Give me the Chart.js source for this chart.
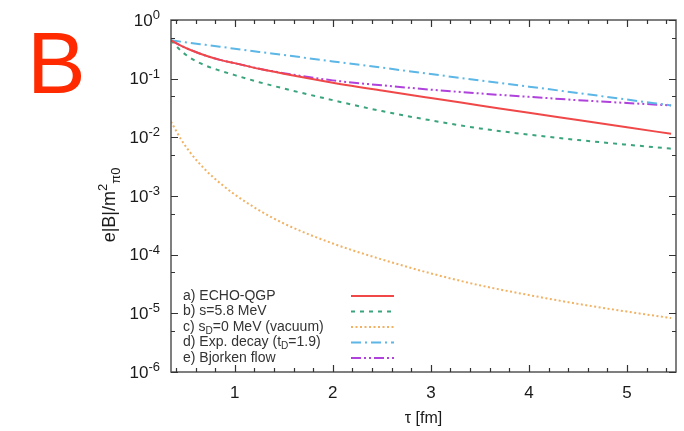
<!DOCTYPE html>
<html>
<head>
<meta charset="utf-8">
<script src="https://cdn.jsdelivr.net/npm/chart.js@4.4.0/dist/chart.umd.min.js"></script>
<style>
html, body { margin: 0; padding: 0; background: #fff; }
#wrap { position: relative; width: 684px; height: 431px; }
</style>
</head>
<body>
<div id="wrap"><canvas id="graph" width="684" height="431"></canvas></div>
<script>
// Temps propre tau [fm]
const tau = [0.35, 0.45, 0.55, 0.7, 0.85, 1, 1.25, 1.5, 2, 2.5, 3, 3.5, 4, 4.5, 5, 5.45];

// e|B|/m_pi0^2 pour chaque scénario
const echoQGP  = [0.45, 0.366, 0.308, 0.248, 0.209, 0.184, 0.147, 0.121, 0.0855, 0.0627, 0.0467, 0.035, 0.0262, 0.0197, 0.0148, 0.0115];
const s58      = [0.45, 0.30, 0.225, 0.168, 0.137, 0.115, 0.087, 0.068, 0.043, 0.028, 0.0195, 0.0142, 0.0111, 0.0090, 0.0075, 0.0064];
const vacuum   = [0.0185, 0.0094, 0.0054, 0.0028, 0.00166, 0.00106, 5.7e-4, 3.4e-4, 1.55e-4, 8.3e-5, 4.8e-5, 3.0e-5, 2.05e-5, 1.45e-5, 1.07e-5, 8.3e-6];
const expDecay = [0.45, 0.428, 0.406, 0.377, 0.350, 0.324, 0.286, 0.253, 0.197, 0.154, 0.120, 0.093, 0.073, 0.057, 0.044, 0.035];
const bjorken  = [0.45, 0.366, 0.308, 0.248, 0.209, 0.184, 0.148, 0.124, 0.0935, 0.077, 0.065, 0.056, 0.049, 0.043, 0.0385, 0.035];

// Légendes et graduations
const etiquettes = ['a) ECHO-QGP', 'b) s=5.8 MeV', 'c) s_{D}=0 MeV (vacuum)', 'd) Exp. decay (t_{D}=1.9)', 'e) Bjorken flow'];
const xTicks = [1, 2, 3, 4, 5];
const yExposants = [0, -1, -2, -3, -4, -5, -6];

const series = [echoQGP, s58, vacuum, expDecay, bjorken];
const couleurs = ['#f04848', '#3aa57c', '#f2b264', '#5cb6e6', '#b042dc'];
const tirets = [[], [4, 5], [2, 2.5], [10, 4, 2, 4], [10, 3, 2, 3, 2, 3]];

const police = '"Liberation Sans", Arial, sans-serif';

// Écrit un texte avec indices _{..} et exposants ^{..}
function texteRiche(ctx, texte, x, y, taille, align) {
    const morceaux = texte.split(/(_\{[^}]*\}|\^\{[^}]*\})/).filter(m => m.length);
    const parts = morceaux.map(m => {
        if (m.startsWith('_{')) return {t: m.slice(2, -1), s: taille * 0.72, dy: taille * 0.3};
        if (m.startsWith('^{')) return {t: m.slice(2, -1), s: taille * 0.72, dy: -taille * 0.42};
        return {t: m, s: taille, dy: 0};
    });
    let total = 0;
    parts.forEach(p => {
        ctx.font = p.s + 'px ' + police;
        p.w = ctx.measureText(p.t).width;
        total += p.w;
    });
    let cx = x;
    if (align === 'center') cx = x - total / 2;
    if (align === 'right') cx = x - total;
    parts.forEach(p => {
        ctx.font = p.s + 'px ' + police;
        ctx.fillText(p.t, cx, y + p.dy);
        cx += p.w;
    });
}

// Cadre, graduations intérieures, étiquettes log, légende et lettre B
const cadre = {
    id: 'cadre',
    afterDraw(chart) {
        const ctx = chart.ctx;
        const {left, right, top, bottom} = chart.chartArea;
        const xs = chart.scales.x, ys = chart.scales.y;
        ctx.save();
        ctx.strokeStyle = '#555';
        ctx.lineWidth = 1.5;
        ctx.strokeRect(left, top, right - left, bottom - top);

        ctx.strokeStyle = '#333';
        ctx.lineWidth = 1.2;
        ctx.beginPath();
        for (let i = 2; i <= 27; i++) {
            const px = Math.round(xs.getPixelForValue(i * 0.2)) + 0.5;
            const l = i % 5 === 0 ? 7 : 4;
            ctx.moveTo(px, bottom); ctx.lineTo(px, bottom - l);
            ctx.moveTo(px, top); ctx.lineTo(px, top + l);
        }
        yExposants.forEach(e => {
            const py = Math.round(ys.getPixelForValue(Math.pow(10, e))) + 0.5;
            ctx.moveTo(left, py); ctx.lineTo(left + 7, py);
            ctx.moveTo(right, py); ctx.lineTo(right - 7, py);
            if (e < 0) {
                const pm = Math.round(ys.getPixelForValue(5 * Math.pow(10, e))) + 0.5;
                ctx.moveTo(left, pm); ctx.lineTo(left + 4, pm);
                ctx.moveTo(right, pm); ctx.lineTo(right - 4, pm);
            }
        });
        ctx.stroke();

        // Étiquettes 10^n
        ctx.fillStyle = '#1a1a1a';
        yExposants.forEach(e => {
            const py = ys.getPixelForValue(Math.pow(10, e));
            ctx.font = '13px ' + police;
            ctx.textAlign = 'right';
            ctx.textBaseline = 'alphabetic';
            const ex = String(e);
            const we = ctx.measureText(ex).width;
            ctx.fillText(ex, 160, py - 1);
            ctx.font = '17px ' + police;
            ctx.textBaseline = 'middle';
            ctx.fillText('10', 160 - we, py + 1);
        });

        // Titre de l'axe Y
        ctx.save();
        ctx.translate(115, 205);
        ctx.rotate(-Math.PI / 2);
        ctx.textAlign = 'left';
        ctx.textBaseline = 'alphabetic';
        ctx.fillStyle = '#1a1a1a';
        texteRiche(ctx, 'e|B|/m^{2}_{π0}', 0, 0, 18, 'center');
        ctx.restore();

        // Légende
        ctx.textAlign = 'left';
        ctx.textBaseline = 'middle';
        chart.data.datasets.forEach((ds, i) => {
            const py = 296 + i * 15.5;
            ctx.fillStyle = '#333';
            texteRiche(ctx, etiquettes[i], 183, py, 14, 'left');
            ctx.beginPath();
            ctx.strokeStyle = ds.borderColor;
            ctx.lineWidth = 2;
            ctx.setLineDash(ds.borderDash);
            ctx.moveTo(351, py); ctx.lineTo(394, py);
            ctx.stroke();
        });
        ctx.setLineDash([]);

        // Lettre du panneau
        ctx.fillStyle = '#ff2a00';
        ctx.font = '88px ' + police;
        ctx.textBaseline = 'alphabetic';
        ctx.fillText('B', 27, 93);
        ctx.restore();
    }
};

const datasets = series.map((vals, i) => ({
    label: etiquettes[i],
    data: tau.map((t, k) => ({x: t, y: vals[k]})),
    borderColor: couleurs[i],
    borderWidth: 2,
    borderDash: tirets[i],
    pointRadius: 0,
    fill: false,
    cubicInterpolationMode: 'monotone'
}));

new Chart(document.getElementById('graph').getContext('2d'), {
    type: 'line',
    data: { datasets: datasets },
    options: {
        responsive: false,
        animation: false,
        devicePixelRatio: 1,
        layout: { padding: { top: 20, right: 8, left: 0, bottom: 0 } },
        plugins: { legend: { display: false }, tooltip: { enabled: false } },
        scales: {
            x: {
                type: 'linear',
                min: 0.35,
                max: 5.5,
                grid: { display: false },
                border: { display: false },
                afterBuildTicks: s => { s.ticks = xTicks.map(v => ({value: v})); },
                afterFit: s => { s.height = 59; },
                ticks: {
                    color: '#1a1a1a',
                    padding: 3,
                    font: { family: police, size: 17 }
                },
                title: {
                    display: true,
                    text: 'τ [fm]',
                    color: '#1a1a1a',
                    padding: { top: 0, bottom: 3 },
                    font: { family: police, size: 16 }
                }
            },
            y: {
                type: 'logarithmic',
                min: 1e-6,
                max: 1,
                grid: { display: false },
                border: { display: false },
                ticks: { display: false },
                afterFit: s => { s.width = 171; }
            }
        }
    },
    plugins: [cadre]
});
</script>
</body>
</html>
